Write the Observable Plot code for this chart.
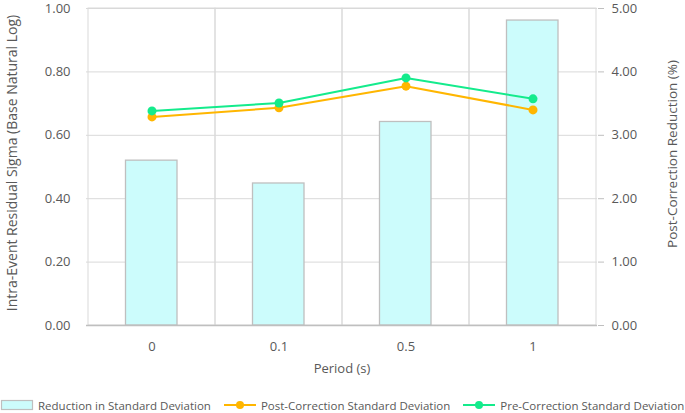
<!DOCTYPE html>
<html>
<head>
<meta charset="utf-8">
<script src="https://cdn.jsdelivr.net/npm/d3@7"></script>
<script src="https://cdn.jsdelivr.net/npm/@observablehq/plot@0.6"></script>
<style>
  body { margin: 0; background: #fff; font-family: "Open Sans", sans-serif; }
  #chart svg { display: block; }
  .legend { display: flex; align-items: center; height: 30px; font-size: 11.5px; color: #595959; white-space: nowrap; }
  .legend .item { display: flex; align-items: center; margin-right: 12px; }
  .legend svg { margin-right: 4px; }
</style>
</head>
<body>
<div id="chart"></div>
<script>
const periods = ["0", "0.1", "0.5", "1"];
const reduction = [2.60, 2.24, 3.21, 4.81];          // % (right axis)
const postCorrection = [0.658, 0.687, 0.755, 0.680];  // left axis
const preCorrection = [0.677, 0.702, 0.781, 0.715];   // left axis
const leftTicks = [0, 0.2, 0.4, 0.6, 0.8, 1.0];
const rightMax = 5;

const bars = periods.map((p, i) => ({period: p, value: reduction[i]}));
const lines = periods.flatMap((p, i) => [
  {period: p, value: postCorrection[i], series: "Post"},
  {period: p, value: preCorrection[i], series: "Pre"}
]);

const W = 685, H = 390;
const textColor = "#595959";
const grid = "#d9d9d9";

const plot = Plot.plot({
  width: W, height: H,
  marginLeft: 86, marginRight: 88, marginTop: 8, marginBottom: 65,
  style: {fontFamily: "Open Sans, sans-serif", fontSize: "13px", color: textColor},
  x: {type: "band", domain: periods, padding: 0, label: null},
  y: {domain: [0, 1], label: null},
  marks: [
    Plot.ruleY(leftTicks.slice(1), {stroke: grid, strokeWidth: 1}),
    Plot.barY(periods, {x: d => d, y1: 0, y2: 1, fill: "none", stroke: grid, strokeWidth: 1}),
    Plot.barY(bars, {x: "period", y: d => d.value / rightMax, fill: "#ccfcfc", stroke: "#bfbfbf", strokeWidth: 1.3, insetLeft: 37.5, insetRight: 38}),
    Plot.ruleY([0], {stroke: "#bfbfbf", strokeWidth: 1.3}),
    Plot.line(lines, {x: "period", y: "value", z: "series", stroke: d => d.series === "Post" ? "#ffb600" : "#14eb8c", strokeWidth: 2}),
    Plot.dot(lines, {x: "period", y: "value", fill: d => d.series === "Post" ? "#ffb600" : "#14eb8c", r: 4.5}),
    Plot.axisY(leftTicks, {anchor: "left", tickSize: 0, tickPadding: 16, tickFormat: d => d.toFixed(2), label: null}),
    Plot.axisY(leftTicks, {anchor: "right", tickSize: 6, tickPadding: 8, stroke: "#bfbfbf", tickFormat: d => (d * rightMax).toFixed(2), label: null}),
    Plot.axisX(periods, {tickSize: 0, tickPadding: 16, label: null}),
    Plot.text(["Period (s)"], {frameAnchor: "bottom", dy: 47, fontSize: 13, fill: textColor}),
    Plot.text(["Intra-Event Residual Sigma (Base Natural Log)"], {frameAnchor: "left", textAnchor: "middle", dx: -74, dy: -4, rotate: -90, fontSize: 14, letterSpacing: "0.4px", fill: textColor}),
    Plot.text(["Post-Correction Reduction (%)"], {frameAnchor: "right", textAnchor: "middle", dx: 75, dy: -13, rotate: -90, fontSize: 13.5, fill: textColor})
  ]
});
document.getElementById("chart").appendChild(plot);

// Legend
const legendItems = [
  {label: "Reduction in Standard Deviation", type: "bar", color: "#ccfcfc"},
  {label: "Post-Correction Standard Deviation", type: "line", color: "#ffb600"},
  {label: "Pre-Correction Standard Deviation", type: "line", color: "#14eb8c"}
];
const legend = document.createElement("div");
legend.className = "legend";
for (const it of legendItems) {
  const item = document.createElement("div");
  item.className = "item";
  const sw = it.type === "bar"
    ? `<svg width="34" height="12"><rect x="1.5" y="1.5" width="31" height="9" fill="${it.color}" stroke="#bfbfbf" stroke-width="1.2"/></svg>`
    : `<svg width="34" height="12"><line x1="1" x2="33" y1="6" y2="6" stroke="${it.color}" stroke-width="2"/><circle cx="17" cy="6" r="4" fill="${it.color}"/></svg>`;
  item.innerHTML = sw + `<span>${it.label}</span>`;
  legend.appendChild(item);
}
document.body.appendChild(legend);
</script>
</body>
</html>
